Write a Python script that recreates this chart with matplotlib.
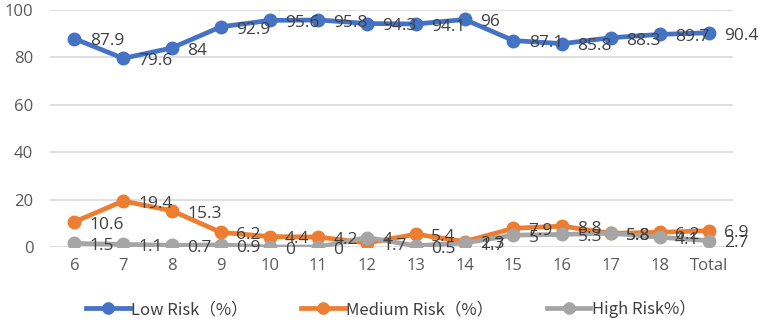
import matplotlib.pyplot as plt

categories = ["6", "7", "8", "9", "10", "11", "12", "13", "14", "15", "16", "17", "18", "Total"]
low_risk = [87.9, 79.6, 84, 92.9, 95.6, 95.8, 94.3, 94.1, 96, 87.1, 85.8, 88.3, 89.7, 90.4]
medium_risk = [10.6, 19.4, 15.3, 6.2, 4.4, 4.2, 1.7, 5.4, 2.3, 7.9, 8.8, 5.8, 6.2, 6.9]
high_risk = [1.5, 1.1, 0.7, 0.9, 0, 0, 4, 0.5, 1.7, 5, 5.3, 5.8, 4.1, 2.7]
series_names = ["Low Risk（%）", "Medium Risk（%）", "High Risk%）"]

colors = ["#4472C4", "#ED7D31", "#A5A5A5"]
txt = "#404040"
plt.rcParams['font.family'] = ['Noto Sans CJK SC', 'DejaVu Sans']

fig = plt.figure(figsize=(7.67, 3.28), dpi=100)
ax = fig.add_axes([50 / 767, 1 - 247 / 328, 683 / 767, 237 / 328])

x = list(range(len(categories)))
for vals, name, c in zip([low_risk, medium_risk, high_risk], series_names, colors):
    ax.plot(x, vals, color=c, lw=3.4, marker="o", ms=9, label=name,
            solid_joinstyle="round")
    # data labels to the right of each point
    for xi, v in zip(x, vals):
        ax.annotate(f"{v:g}", (xi, v), xytext=(11, -2), textcoords="offset points",
                    ha="left", va="center", fontsize=12.5, color=txt,
                    family=["Open Sans", "DejaVu Sans"])

ax.set_xlim(-0.5, len(categories) - 0.5)
ax.set_ylim(0, 100)
ax.set_yticks([0, 20, 40, 60, 80, 100])
ax.set_xticks(x)
ax.set_xticklabels(categories)
ax.grid(axis="y", color="#D9D9D9", lw=1.2)
ax.set_axisbelow(True)
for s in ax.spines.values():
    s.set_visible(False)
ax.tick_params(length=0, labelsize=12, labelcolor="#595959", pad=8)
for lab in ax.get_xticklabels() + ax.get_yticklabels():
    lab.set_family(["Open Sans", "DejaVu Sans"])
ax.tick_params(axis="y", pad=12)

leg = fig.legend(loc="center", bbox_to_anchor=(0.51, 1 - 309 / 328), ncol=3,
                 frameon=False, fontsize=12, handlelength=2.6, columnspacing=3.2,
                 handletextpad=0.1, markerscale=0.9)
for t in leg.get_texts():
    t.set_color(txt)

fig.savefig("out.png", dpi=100)
